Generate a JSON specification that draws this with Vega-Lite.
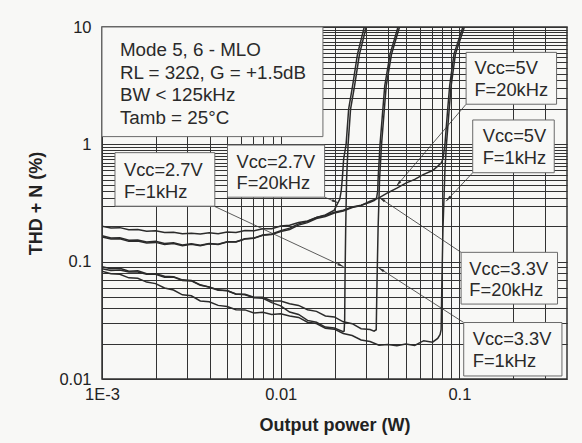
{
  "$schema": "https://vega.github.io/schema/vega-lite/v6.json",
  "autosize": "none",
  "width": 465,
  "height": 352,
  "padding": {"left": 102, "top": 27, "right": 15, "bottom": 64},
  "background": "#f8f8f6",
  "config": {
    "font": "Liberation Sans",
    "view": {"stroke": "#333", "strokeWidth": 1.5}
  },
  "datasets": {
    "curves": [
      {"c":"2.7V 1kHz","x":0.001,"y":0.087},{"c":"2.7V 1kHz","x":0.001122,"y":0.084},{"c":"2.7V 1kHz","x":0.001259,"y":0.0848},{"c":"2.7V 1kHz","x":0.001413,"y":0.0818},{"c":"2.7V 1kHz","x":0.001585,"y":0.0818},{"c":"2.7V 1kHz","x":0.001778,"y":0.078},{"c":"2.7V 1kHz","x":0.001995,"y":0.0782},{"c":"2.7V 1kHz","x":0.002239,"y":0.0738},{"c":"2.7V 1kHz","x":0.002512,"y":0.074},{"c":"2.7V 1kHz","x":0.002818,"y":0.069},{"c":"2.7V 1kHz","x":0.003162,"y":0.0685},{"c":"2.7V 1kHz","x":0.003548,"y":0.063},{"c":"2.7V 1kHz","x":0.003981,"y":0.061},{"c":"2.7V 1kHz","x":0.004467,"y":0.0575},{"c":"2.7V 1kHz","x":0.005012,"y":0.0565},{"c":"2.7V 1kHz","x":0.005623,"y":0.053},{"c":"2.7V 1kHz","x":0.00631,"y":0.0523},{"c":"2.7V 1kHz","x":0.007079,"y":0.0492},{"c":"2.7V 1kHz","x":0.007943,"y":0.0488},{"c":"2.7V 1kHz","x":0.008913,"y":0.0448},{"c":"2.7V 1kHz","x":0.01,"y":0.042},{"c":"2.7V 1kHz","x":0.01122,"y":0.0372},{"c":"2.7V 1kHz","x":0.01259,"y":0.0355},{"c":"2.7V 1kHz","x":0.01413,"y":0.0316},{"c":"2.7V 1kHz","x":0.01585,"y":0.0305},{"c":"2.7V 1kHz","x":0.01778,"y":0.0277},{"c":"2.7V 1kHz","x":0.01995,"y":0.0272},{"c":"2.7V 1kHz","x":0.02239,"y":0.0253},
      {"c":"2.7V 1kHz","x":0.02265,"y":0.0256},{"c":"2.7V 1kHz","x":0.0228,"y":0.032},{"c":"2.7V 1kHz","x":0.0229,"y":0.07},{"c":"2.7V 1kHz","x":0.0231,"y":0.19},{"c":"2.7V 1kHz","x":0.02337,"y":0.5},{"c":"2.7V 1kHz","x":0.02383,"y":1},{"c":"2.7V 1kHz","x":0.0246,"y":2},{"c":"2.7V 1kHz","x":0.0259,"y":3.15},{"c":"2.7V 1kHz","x":0.0276,"y":5.88},{"c":"2.7V 1kHz","x":0.0301,"y":10},

      {"c":"3.3V 1kHz","x":0.001,"y":0.0905},{"c":"3.3V 1kHz","x":0.001122,"y":0.087},{"c":"3.3V 1kHz","x":0.001259,"y":0.088},{"c":"3.3V 1kHz","x":0.001413,"y":0.083},{"c":"3.3V 1kHz","x":0.001585,"y":0.0836},{"c":"3.3V 1kHz","x":0.001778,"y":0.079},{"c":"3.3V 1kHz","x":0.001995,"y":0.0788},{"c":"3.3V 1kHz","x":0.002239,"y":0.075},{"c":"3.3V 1kHz","x":0.002512,"y":0.0745},{"c":"3.3V 1kHz","x":0.002818,"y":0.07},{"c":"3.3V 1kHz","x":0.003162,"y":0.069},{"c":"3.3V 1kHz","x":0.003548,"y":0.0635},{"c":"3.3V 1kHz","x":0.003981,"y":0.0605},{"c":"3.3V 1kHz","x":0.004467,"y":0.057},{"c":"3.3V 1kHz","x":0.005012,"y":0.0568},{"c":"3.3V 1kHz","x":0.005623,"y":0.0527},{"c":"3.3V 1kHz","x":0.00631,"y":0.0528},{"c":"3.3V 1kHz","x":0.007079,"y":0.0497},{"c":"3.3V 1kHz","x":0.007943,"y":0.0497},{"c":"3.3V 1kHz","x":0.008913,"y":0.0463},{"c":"3.3V 1kHz","x":0.01,"y":0.0462},{"c":"3.3V 1kHz","x":0.01122,"y":0.0438},{"c":"3.3V 1kHz","x":0.01259,"y":0.0424},{"c":"3.3V 1kHz","x":0.01413,"y":0.0389},{"c":"3.3V 1kHz","x":0.01585,"y":0.0377},{"c":"3.3V 1kHz","x":0.01778,"y":0.0345},{"c":"3.3V 1kHz","x":0.01995,"y":0.0338},{"c":"3.3V 1kHz","x":0.02239,"y":0.0307},{"c":"3.3V 1kHz","x":0.02512,"y":0.0296},{"c":"3.3V 1kHz","x":0.02818,"y":0.0268},{"c":"3.3V 1kHz","x":0.03162,"y":0.0264},
      {"c":"3.3V 1kHz","x":0.0333,"y":0.0256},{"c":"3.3V 1kHz","x":0.03424,"y":0.0263},{"c":"3.3V 1kHz","x":0.03461,"y":0.0702},{"c":"3.3V 1kHz","x":0.03506,"y":0.1877},{"c":"3.3V 1kHz","x":0.03574,"y":0.5021},{"c":"3.3V 1kHz","x":0.03667,"y":1},{"c":"3.3V 1kHz","x":0.03802,"y":2},{"c":"3.3V 1kHz","x":0.03895,"y":3.15},{"c":"3.3V 1kHz","x":0.04171,"y":5.877},{"c":"3.3V 1kHz","x":0.04622,"y":10},

      {"c":"5V 1kHz","x":0.001,"y":0.0828},{"c":"5V 1kHz","x":0.001122,"y":0.079},{"c":"5V 1kHz","x":0.001259,"y":0.078},{"c":"5V 1kHz","x":0.001413,"y":0.0728},{"c":"5V 1kHz","x":0.001585,"y":0.0722},{"c":"5V 1kHz","x":0.001778,"y":0.067},{"c":"5V 1kHz","x":0.001995,"y":0.065},{"c":"5V 1kHz","x":0.002239,"y":0.0596},{"c":"5V 1kHz","x":0.002512,"y":0.0573},{"c":"5V 1kHz","x":0.002818,"y":0.0522},{"c":"5V 1kHz","x":0.003162,"y":0.0512},{"c":"5V 1kHz","x":0.003548,"y":0.0463},{"c":"5V 1kHz","x":0.003981,"y":0.0455},{"c":"5V 1kHz","x":0.004467,"y":0.0424},{"c":"5V 1kHz","x":0.005012,"y":0.0414},{"c":"5V 1kHz","x":0.005623,"y":0.0389},{"c":"5V 1kHz","x":0.00631,"y":0.0388},{"c":"5V 1kHz","x":0.007079,"y":0.0366},{"c":"5V 1kHz","x":0.007943,"y":0.037},{"c":"5V 1kHz","x":0.008913,"y":0.0355},{"c":"5V 1kHz","x":0.01,"y":0.0359},{"c":"5V 1kHz","x":0.01122,"y":0.0345},{"c":"5V 1kHz","x":0.01259,"y":0.0335},{"c":"5V 1kHz","x":0.01413,"y":0.0305},{"c":"5V 1kHz","x":0.01585,"y":0.0297},{"c":"5V 1kHz","x":0.01778,"y":0.0271},{"c":"5V 1kHz","x":0.01995,"y":0.0266},{"c":"5V 1kHz","x":0.02239,"y":0.0244},{"c":"5V 1kHz","x":0.02512,"y":0.0235},{"c":"5V 1kHz","x":0.02818,"y":0.0215},{"c":"5V 1kHz","x":0.03162,"y":0.0209},{"c":"5V 1kHz","x":0.03548,"y":0.0194},{"c":"5V 1kHz","x":0.03981,"y":0.0197},{"c":"5V 1kHz","x":0.04467,"y":0.0192},{"c":"5V 1kHz","x":0.05012,"y":0.0199},{"c":"5V 1kHz","x":0.05623,"y":0.0193},{"c":"5V 1kHz","x":0.0631,"y":0.0212},{"c":"5V 1kHz","x":0.07079,"y":0.0206},
      {"c":"5V 1kHz","x":0.0756,"y":0.0222},{"c":"5V 1kHz","x":0.078,"y":0.024},{"c":"5V 1kHz","x":0.07903,"y":0.0265},{"c":"5V 1kHz","x":0.07985,"y":0.0702},{"c":"5V 1kHz","x":0.08088,"y":0.1877},{"c":"5V 1kHz","x":0.08194,"y":0.3388},{"c":"5V 1kHz","x":0.08299,"y":0.6113},{"c":"5V 1kHz","x":0.08462,"y":1},{"c":"5V 1kHz","x":0.0877,"y":2},{"c":"5V 1kHz","x":0.08988,"y":3.15},{"c":"5V 1kHz","x":0.09499,"y":5.877},{"c":"5V 1kHz","x":0.1066,"y":10},

      {"c":"2.7V 20kHz","x":0.001,"y":0.2},{"c":"2.7V 20kHz","x":0.001122,"y":0.194},{"c":"2.7V 20kHz","x":0.001259,"y":0.195},{"c":"2.7V 20kHz","x":0.001413,"y":0.187},{"c":"2.7V 20kHz","x":0.001585,"y":0.188},{"c":"2.7V 20kHz","x":0.001778,"y":0.182},{"c":"2.7V 20kHz","x":0.001995,"y":0.183},{"c":"2.7V 20kHz","x":0.002239,"y":0.177},{"c":"2.7V 20kHz","x":0.002512,"y":0.178},{"c":"2.7V 20kHz","x":0.002818,"y":0.173},{"c":"2.7V 20kHz","x":0.003162,"y":0.175},{"c":"2.7V 20kHz","x":0.003548,"y":0.172},{"c":"2.7V 20kHz","x":0.003981,"y":0.176},{"c":"2.7V 20kHz","x":0.004467,"y":0.173},{"c":"2.7V 20kHz","x":0.005012,"y":0.179},{"c":"2.7V 20kHz","x":0.005623,"y":0.177},{"c":"2.7V 20kHz","x":0.00631,"y":0.184},{"c":"2.7V 20kHz","x":0.007079,"y":0.183},{"c":"2.7V 20kHz","x":0.007943,"y":0.191},{"c":"2.7V 20kHz","x":0.008913,"y":0.191},{"c":"2.7V 20kHz","x":0.01,"y":0.201},{"c":"2.7V 20kHz","x":0.01122,"y":0.204},{"c":"2.7V 20kHz","x":0.01259,"y":0.216},{"c":"2.7V 20kHz","x":0.01413,"y":0.222},{"c":"2.7V 20kHz","x":0.01585,"y":0.238},{"c":"2.7V 20kHz","x":0.01778,"y":0.25},{"c":"2.7V 20kHz","x":0.01995,"y":0.275},
      {"c":"2.7V 20kHz","x":0.0205,"y":0.3},{"c":"2.7V 20kHz","x":0.0214,"y":0.34},{"c":"2.7V 20kHz","x":0.0218,"y":0.4},{"c":"2.7V 20kHz","x":0.0221,"y":0.5},{"c":"2.7V 20kHz","x":0.0225,"y":0.75},{"c":"2.7V 20kHz","x":0.02323,"y":1},{"c":"2.7V 20kHz","x":0.024,"y":2},{"c":"2.7V 20kHz","x":0.02525,"y":3.15},{"c":"2.7V 20kHz","x":0.0269,"y":5.88},{"c":"2.7V 20kHz","x":0.02935,"y":10},

      {"c":"3.3V 20kHz","x":0.001,"y":0.166},{"c":"3.3V 20kHz","x":0.001122,"y":0.159},{"c":"3.3V 20kHz","x":0.001259,"y":0.16},{"c":"3.3V 20kHz","x":0.001413,"y":0.152},{"c":"3.3V 20kHz","x":0.001585,"y":0.153},{"c":"3.3V 20kHz","x":0.001778,"y":0.147},{"c":"3.3V 20kHz","x":0.001995,"y":0.149},{"c":"3.3V 20kHz","x":0.002239,"y":0.143},{"c":"3.3V 20kHz","x":0.002512,"y":0.145},{"c":"3.3V 20kHz","x":0.002818,"y":0.139},{"c":"3.3V 20kHz","x":0.003162,"y":0.142},{"c":"3.3V 20kHz","x":0.003548,"y":0.138},{"c":"3.3V 20kHz","x":0.003981,"y":0.143},{"c":"3.3V 20kHz","x":0.004467,"y":0.141},{"c":"3.3V 20kHz","x":0.005012,"y":0.148},{"c":"3.3V 20kHz","x":0.005623,"y":0.148},{"c":"3.3V 20kHz","x":0.00631,"y":0.157},{"c":"3.3V 20kHz","x":0.007079,"y":0.159},{"c":"3.3V 20kHz","x":0.007943,"y":0.169},{"c":"3.3V 20kHz","x":0.008913,"y":0.172},{"c":"3.3V 20kHz","x":0.01,"y":0.184},{"c":"3.3V 20kHz","x":0.01122,"y":0.193},{"c":"3.3V 20kHz","x":0.01259,"y":0.21},{"c":"3.3V 20kHz","x":0.01413,"y":0.22},{"c":"3.3V 20kHz","x":0.01585,"y":0.238},{"c":"3.3V 20kHz","x":0.01778,"y":0.248},{"c":"3.3V 20kHz","x":0.01995,"y":0.264},{"c":"3.3V 20kHz","x":0.02239,"y":0.274},{"c":"3.3V 20kHz","x":0.02512,"y":0.292},{"c":"3.3V 20kHz","x":0.02818,"y":0.303},{"c":"3.3V 20kHz","x":0.03162,"y":0.32},
      {"c":"3.3V 20kHz","x":0.0335,"y":0.333},{"c":"3.3V 20kHz","x":0.0344,"y":0.35},{"c":"3.3V 20kHz","x":0.0349,"y":0.4},{"c":"3.3V 20kHz","x":0.03506,"y":0.5},{"c":"3.3V 20kHz","x":0.03597,"y":1},{"c":"3.3V 20kHz","x":0.0373,"y":2},{"c":"3.3V 20kHz","x":0.03821,"y":3.15},{"c":"3.3V 20kHz","x":0.04092,"y":5.877},{"c":"3.3V 20kHz","x":0.04534,"y":10},

      {"c":"5V 20kHz","x":0.001,"y":0.162},{"c":"5V 20kHz","x":0.001122,"y":0.156},{"c":"5V 20kHz","x":0.001259,"y":0.157},{"c":"5V 20kHz","x":0.001413,"y":0.149},{"c":"5V 20kHz","x":0.001585,"y":0.15},{"c":"5V 20kHz","x":0.001778,"y":0.144},{"c":"5V 20kHz","x":0.001995,"y":0.146},{"c":"5V 20kHz","x":0.002239,"y":0.14},{"c":"5V 20kHz","x":0.002512,"y":0.143},{"c":"5V 20kHz","x":0.002818,"y":0.137},{"c":"5V 20kHz","x":0.003162,"y":0.141},{"c":"5V 20kHz","x":0.003548,"y":0.137},{"c":"5V 20kHz","x":0.003981,"y":0.142},{"c":"5V 20kHz","x":0.004467,"y":0.14},{"c":"5V 20kHz","x":0.005012,"y":0.147},{"c":"5V 20kHz","x":0.005623,"y":0.147},{"c":"5V 20kHz","x":0.00631,"y":0.156},{"c":"5V 20kHz","x":0.007079,"y":0.158},{"c":"5V 20kHz","x":0.007943,"y":0.168},{"c":"5V 20kHz","x":0.008913,"y":0.17},{"c":"5V 20kHz","x":0.01,"y":0.181},{"c":"5V 20kHz","x":0.01122,"y":0.188},{"c":"5V 20kHz","x":0.01259,"y":0.205},{"c":"5V 20kHz","x":0.01413,"y":0.215},{"c":"5V 20kHz","x":0.01585,"y":0.233},{"c":"5V 20kHz","x":0.01778,"y":0.243},{"c":"5V 20kHz","x":0.01995,"y":0.26},{"c":"5V 20kHz","x":0.02239,"y":0.27},{"c":"5V 20kHz","x":0.02512,"y":0.289},{"c":"5V 20kHz","x":0.02818,"y":0.301},{"c":"5V 20kHz","x":0.03162,"y":0.327},{"c":"5V 20kHz","x":0.03548,"y":0.35},{"c":"5V 20kHz","x":0.03981,"y":0.387},{"c":"5V 20kHz","x":0.04467,"y":0.423},{"c":"5V 20kHz","x":0.05012,"y":0.467},{"c":"5V 20kHz","x":0.05623,"y":0.503},{"c":"5V 20kHz","x":0.0631,"y":0.554},{"c":"5V 20kHz","x":0.07079,"y":0.598},
      {"c":"5V 20kHz","x":0.076,"y":0.655},{"c":"5V 20kHz","x":0.0795,"y":0.7},{"c":"5V 20kHz","x":0.081,"y":0.76},{"c":"5V 20kHz","x":0.082,"y":0.87},{"c":"5V 20kHz","x":0.083,"y":1},{"c":"5V 20kHz","x":0.086,"y":2},{"c":"5V 20kHz","x":0.0882,"y":3.15},{"c":"5V 20kHz","x":0.0932,"y":5.877},{"c":"5V 20kHz","x":0.1046,"y":10}
    ],
    "boxes": [
      {"id":"main","x":0.001,"x2":0.01723,"y":10,"y2":1.164},
      {"id":"2.7V 1kHz","x":0.001182,"x2":0.004279,"y":0.8492,"y2":0.297},
      {"id":"2.7V 20kHz","x":0.005038,"x2":0.01761,"y":0.9863,"y2":0.3544},
      {"id":"5V 20kHz","x":0.109,"x2":0.3497,"y":6.078,"y2":2.197},
      {"id":"5V 1kHz","x":0.1187,"x2":0.3394,"y":1.613,"y2":0.5728},
      {"id":"3.3V 20kHz","x":0.1022,"x2":0.354,"y":0.1201,"y2":0.04351},
      {"id":"3.3V 1kHz","x":0.1057,"x2":0.3748,"y":0.03029,"y2":0.01061}
    ],
    "arrows": [
      {"id":"a1","x":0.004279,"y":0.2952,"x2":0.02249,"y2":0.09063},
      {"id":"a2","x":0.01761,"y":0.3544,"x2":0.0209,"y2":0.3176},
      {"id":"a3","x":0.109,"y":2.197,"x2":0.04431,"y2":0.4401},
      {"id":"a4","x":0.1187,"y":0.5728,"x2":0.08425,"y2":0.3277},
      {"id":"a5","x":0.1022,"y":0.1201,"x2":0.03574,"y2":0.3503},
      {"id":"a6","x":0.1057,"y":0.03029,"x2":0.03527,"y2":0.08885}
    ],
    "notes": [
      {"x":0.001327,"y":0.5358,"t":"Vcc=2.7V\nF=1kHz"},
      {"x":0.005655,"y":0.6323,"t":"Vcc=2.7V\nF=20kHz"},
      {"x":0.1213,"y":3.966,"t":"Vcc=5V\nF=20kHz"},
      {"x":0.135,"y":1.046,"t":"Vcc=5V\nF=1kHz"},
      {"x":0.1137,"y":0.07743,"t":"Vcc=3.3V\nF=20kHz"},
      {"x":0.1187,"y":0.01953,"t":"Vcc=3.3V\nF=1kHz"}
    ],
    "main": [
      {"x":0.00126,"y":5.685,"t":"Mode 5, 6 - MLO\nRL = 32\u03a9, G = +1.5dB\nBW < 125kHz\nTamb = 25\u00b0C"}
    ]
  },
  "encoding": {
    "x": {
      "field": "x", "type": "quantitative",
      "scale": {"type": "log", "domain": [0.001, 0.4], "nice": false},
      "axis": {
        "title": "Output power (W)",
        "values": [0.001,0.002,0.003,0.004,0.005,0.006,0.007,0.008,0.009,0.01,0.02,0.03,0.04,0.05,0.06,0.07,0.08,0.09,0.1,0.2,0.3],
        "labelExpr": "datum.value==0.001?'1E-3':datum.value==0.01?'0.01':datum.value==0.1?'0.1':''",
        "grid": true, "gridColor": "#333", "gridWidth": 1,
        "ticks": false, "tickSize": 0, "domain": false,
        "labelOverlap": false, "labelFlush": false, "labelBound": false,
        "labelPadding": 7, "labelFontSize": 16.5, "labelColor": "#222",
        "titleFontSize": 18, "titleFontWeight": "bold", "titleColor": "#222", "titlePadding": 14
      }
    },
    "y": {
      "field": "y", "type": "quantitative",
      "scale": {"type": "log", "domain": [0.01, 10], "nice": false},
      "axis": {
        "title": "THD + N (%)",
        "values": [0.01,0.02,0.03,0.04,0.05,0.06,0.07,0.08,0.09,0.1,0.2,0.3,0.35,0.4,0.45,0.5,0.55,0.6,0.65,0.7,0.75,0.8,0.85,0.9,0.95,1,2,2.5,3,3.5,4,4.5,5,5.5,6,6.5,7,7.5,8,8.5,9,9.5,10],
        "labelExpr": "datum.value==10?'10':datum.value==1?'1':datum.value==0.1?'0.1':datum.value==0.01?'0.01':''",
        "grid": true, "gridColor": "#333", "gridWidth": 1,
        "ticks": false, "tickSize": 0, "domain": false,
        "labelOverlap": false, "labelFlush": false, "labelBound": false,
        "labelPadding": 11, "labelFontSize": 16.5, "labelColor": "#222",
        "titleFontSize": 18, "titleFontWeight": "bold", "titleColor": "#222", "titlePadding": 13
      }
    }
  },
  "layer": [
    {
      "data": {"name": "curves"},
      "mark": {"type": "line", "color": "#2b2b2b", "strokeWidth": 1.5, "clip": true},
      "encoding": {"detail": {"field": "c", "type": "nominal"}}
    },
    {
      "data": {"name": "arrows"},
      "mark": {"type": "rule", "color": "#333", "strokeWidth": 0.8},
      "encoding": {"x2": {"field": "x2"}, "y2": {"field": "y2"}}
    },
    {
      "data": {"name": "arrows"},
      "transform": [{"filter": "datum.id=='a1'"}],
      "mark": {"type": "point", "shape": "M0,0L0.35,1.6L-0.35,1.6Z", "filled": true, "color": "#333", "opacity": 1, "size": 60, "angle": 115},
      "encoding": {"x": {"field": "x2", "type": "quantitative"}, "y": {"field": "y2", "type": "quantitative"}}
    },
    {
      "data": {"name": "arrows"},
      "transform": [{"filter": "datum.id=='a2'"}],
      "mark": {"type": "point", "shape": "M0,0L0.35,1.6L-0.35,1.6Z", "filled": true, "color": "#333", "opacity": 1, "size": 60, "angle": 113},
      "encoding": {"x": {"field": "x2", "type": "quantitative"}, "y": {"field": "y2", "type": "quantitative"}}
    },
    {
      "data": {"name": "arrows"},
      "transform": [{"filter": "datum.id=='a3'"}],
      "mark": {"type": "point", "shape": "M0,0L0.35,1.6L-0.35,1.6Z", "filled": true, "color": "#333", "opacity": 1, "size": 60, "angle": 220.6},
      "encoding": {"x": {"field": "x2", "type": "quantitative"}, "y": {"field": "y2", "type": "quantitative"}}
    },
    {
      "data": {"name": "arrows"},
      "transform": [{"filter": "datum.id=='a4'"}],
      "mark": {"type": "point", "shape": "M0,0L0.35,1.6L-0.35,1.6Z", "filled": true, "color": "#333", "opacity": 1, "size": 60, "angle": 223},
      "encoding": {"x": {"field": "x2", "type": "quantitative"}, "y": {"field": "y2", "type": "quantitative"}}
    },
    {
      "data": {"name": "arrows"},
      "transform": [{"filter": "datum.id=='a5'"}],
      "mark": {"type": "point", "shape": "M0,0L0.35,1.6L-0.35,1.6Z", "filled": true, "color": "#333", "opacity": 1, "size": 60, "angle": 303.7},
      "encoding": {"x": {"field": "x2", "type": "quantitative"}, "y": {"field": "y2", "type": "quantitative"}}
    },
    {
      "data": {"name": "arrows"},
      "transform": [{"filter": "datum.id=='a6'"}],
      "mark": {"type": "point", "shape": "M0,0L0.35,1.6L-0.35,1.6Z", "filled": true, "color": "#333", "opacity": 1, "size": 60, "angle": 302.7},
      "encoding": {"x": {"field": "x2", "type": "quantitative"}, "y": {"field": "y2", "type": "quantitative"}}
    },
    {
      "data": {"name": "boxes"},
      "mark": {"type": "rect", "fill": "#f8f8f6", "stroke": "#6a6a6a", "strokeWidth": 1},
      "encoding": {"x2": {"field": "x2"}, "y2": {"field": "y2"}}
    },
    {
      "data": {"name": "notes"},
      "mark": {"type": "text", "align": "left", "baseline": "alphabetic", "lineBreak": "\n", "lineHeight": 21.7, "fontSize": 18.3, "color": "#2a2a2a"},
      "encoding": {"text": {"field": "t", "type": "nominal"}}
    },
    {
      "data": {"name": "main"},
      "mark": {"type": "text", "align": "left", "baseline": "alphabetic", "lineBreak": "\n", "lineHeight": 22.8, "fontSize": 18.8, "color": "#2a2a2a"},
      "encoding": {"text": {"field": "t", "type": "nominal"}}
    }
  ]
}
